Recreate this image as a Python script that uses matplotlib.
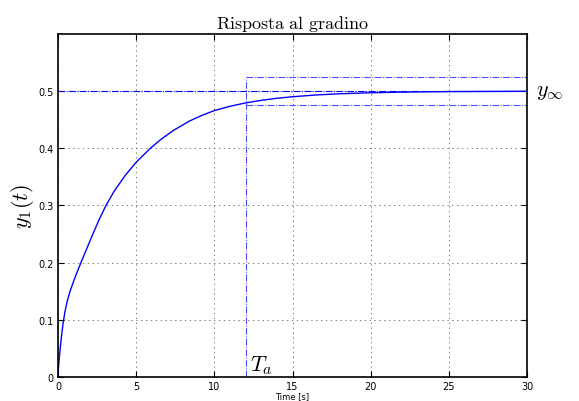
import matplotlib
matplotlib.use("Agg")
import matplotlib.pyplot as plt

plt.rcParams['mathtext.fontset'] = 'cm'
plt.rcParams['lines.scale_dashes'] = False

# step response values
t = [0, 0.03, 0.08, 0.15, 0.23, 0.32, 0.45, 0.6, 0.77, 1.1, 1.45, 1.8, 2.16, 2.6, 3.06, 3.6,
     4.29, 5.0, 5.9, 6.6, 7.4, 8.4, 9.2, 10.0, 11.0, 12.0, 13.0, 14.0, 15.0, 16.5,
     18.0, 20.0, 22.0, 25.0, 27.5, 30.0]
y1 = [0, 0.016, 0.033, 0.053, 0.073, 0.093, 0.115, 0.134, 0.150, 0.175, 0.199, 0.222, 0.2455,
      0.2735, 0.2996, 0.3254, 0.3523, 0.3757, 0.3999, 0.416, 0.4316, 0.4476, 0.4576, 0.466,
      0.4735, 0.4794, 0.4839, 0.4875, 0.4902, 0.4933, 0.4954, 0.4972, 0.4983, 0.4992,
      0.4995, 0.4998]

y_inf = 0.5
Ta = 12
band = [0.475, 0.525]
t_end = 30

xticks = [0, 5, 10, 15, 20, 25, 30]
yticks = [0, 0.1, 0.2, 0.3, 0.4, 0.5]

dashdot = (0, (4.8, 1.1, 0.7, 1.1))

fig = plt.figure(figsize=(5.79, 4.02), dpi=100)
ax = fig.add_axes([0.1002, 0.0597, 0.8100, 0.8533])

ax.plot(t, y1, color='blue', lw=1.0)
ax.plot([0, t_end], [y_inf, y_inf], color='blue', lw=0.8, ls=dashdot)
ax.plot([Ta, t_end], [band[1], band[1]], color='#4d4dff', lw=0.8, ls=dashdot)
ax.plot([Ta, t_end], [band[0], band[0]], color='#4d4dff', lw=0.8, ls=dashdot)
ax.plot([Ta, Ta], [0, band[1]], color='#4d4dff', lw=0.8, ls=dashdot)

ax.set_xlim(0, t_end)
ax.set_ylim(0, 0.6)
ax.set_xticks(xticks)
ax.set_yticks(yticks)
ax.set_xticklabels([str(v) for v in xticks], fontsize=7)
ax.set_yticklabels(['0', '0.1', '0.2', '0.3', '0.4', '0.5'], fontsize=7)
ax.tick_params(direction='in', top=True, right=True, length=4, width=0.8, pad=3)
ax.grid(True, ls=(0, (1, 2.5)), color='#666666', lw=0.6)
for s in ax.spines.values():
    s.set_linewidth(1.2)

ax.set_title(r'$\mathrm{Risposta\ al\ gradino}$', fontsize=13, pad=4)
ax.set_xlabel('Time [s]', fontsize=6, labelpad=0)
ax.set_ylabel(r'$y_1(t)$', fontsize=16, labelpad=2)

ax.text(Ta + 0.3, 0.012, r'$T_a$', fontsize=16)
ax.text(t_end + 0.6, y_inf, r'$y_\infty$', fontsize=16, va='center', ha='left')

fig.savefig('out.png', dpi=100)
